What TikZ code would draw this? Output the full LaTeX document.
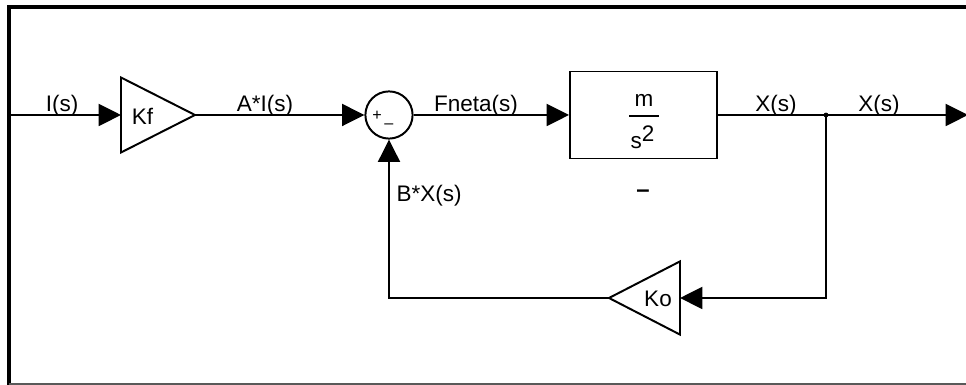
\documentclass[tikz,border=0pt]{standalone}
\usepackage{fontspec}
\setmainfont{Liberation Sans}
\usetikzlibrary{arrows.meta}
\tikzset{
  wire/.style={line width=1.4pt, draw=black, line join=miter},
  wirehead/.style={wire, -{Triangle[length=0.56cm, width=0.55cm]}},
  gainshape/.style={line width=1.4pt, draw=black, fill=white, line join=miter},
  sumnode/.style={circle, draw=black, line width=1.4pt, fill=white, minimum size=1.18cm, inner sep=0pt},
  plantbox/.style={rectangle, draw=black, line width=1.4pt, fill=white, minimum width=3.675cm, minimum height=2.175cm, inner sep=0pt},
  sig/.style={font=\fontsize{16}{19}\selectfont, anchor=base, inner sep=0pt},
  signs/.style={font=\fontsize{11.5}{13}\selectfont, inner sep=0pt},
  frame/.style={line width=2.2pt, draw=black},
}
\begin{document}
\begin{tikzpicture}
\useasboundingbox (0,0) rectangle (24.15,9.625);
\draw[frame] (0.225,0) -- (0.225,9.45) -- (24.15,9.45);
\draw[black!65, line width=0.8pt] (0.225,0.025) -- (24.15,0.025);
\coordinate (in) at (0.225,6.75);
\coordinate (kfin) at (3.025,6.75);
\coordinate (kfout) at (4.875,6.75);
\coordinate (split) at (20.65,6.75);
\coordinate (out) at (24.2,6.75);
\coordinate (koin) at (17.0,2.175);
\coordinate (koout) at (15.225,2.175);
\draw[gainshape] (3.025,7.6875) -- (kfout) -- (3.025,5.8125) -- cycle;
\draw[gainshape] (17.0,3.09) -- (koout) -- (17.0,1.26) -- cycle;
\node[sig] (kf) at (3.56,6.5) {Kf};
\node[sig] (ko) at (16.45,1.95) {Ko};
\node[sumnode] (sum) at (9.725,6.75) {};
\node[signs] (plus) at (9.43,6.74) {+};
\node[signs] (minus) at (9.72,6.46) {\textendash};
\node[plantbox] (plant) at (16.0875,6.75) {};
\node[sig] (num) at (16.1,6.95) {m};
\node[sig] (den) at (16.06,5.9) {s\raisebox{5pt}{2}};
\draw[wire] (15.725,6.725) -- (16.475,6.725);
\node[font=\fontsize{17}{19}\bfseries, inner sep=0pt] (plantname) at (16.075,4.775) {\textendash};
\draw[wirehead] (in) -- (kfin);
\draw[wirehead] (kfout) -- (sum.west);
\draw[wirehead] (sum.east) -- (plant.west);
\draw[wire] (plant.east) -- (split);
\draw[wirehead] (split) -- (out);
\draw[wirehead] (split) |- (koin);
\draw[wirehead] (koout) -| (sum.south);
\fill (split) circle (0.06);
\node[sig] (lin) at (1.55,6.825) {I(s)};
\node[sig] (lai) at (6.625,6.825) {A*I(s)};
\node[sig] (lf) at (11.9,6.825) {Fneta(s)};
\node[sig] (lx) at (19.4,6.825) {X(s)};
\node[sig] (lxo) at (21.975,6.825) {X(s)};
\node[sig] (lbx) at (10.725,4.575) {B*X(s)};
\end{tikzpicture}
\end{document}
